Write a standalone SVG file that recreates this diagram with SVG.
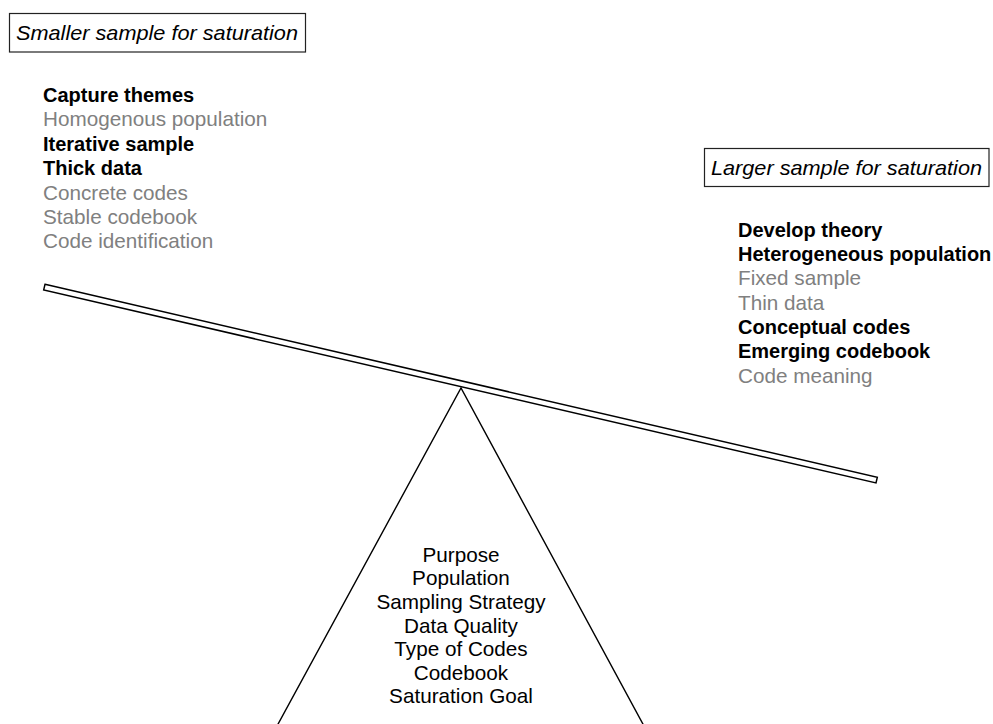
<svg xmlns="http://www.w3.org/2000/svg" width="993" height="724" viewBox="0 0 993 724">
<style>
text{font-family:"Liberation Sans",Arial,Helvetica,sans-serif;}
.lbl{font-size:21px;font-style:italic;fill:#000;}
.box{fill:#fff;stroke:#222;stroke-width:1.2;}
.b{font-size:20px;font-weight:bold;fill:#000;}
.g{font-size:20.7px;fill:#808080;}
.c{font-size:20.7px;fill:#000;text-anchor:middle;}
.shape{fill:#fff;stroke:#000;stroke-width:1.5;stroke-linejoin:miter;}
.line{fill:none;stroke:#000;stroke-width:1.4;}
</style>
<rect width="993" height="724" fill="#fff"/>
<g id="fulcrum">
<polyline class="line" points="277,726 461,388 644,726"/>
</g>
<g id="beam">
<polygon class="shape" points="45,284.3 877.3,477.3 876,482.9 43.7,289.9"/>
</g>
<g id="smaller-label">
<rect class="box" x="9.5" y="13.5" width="296" height="38.5"/>
<text class="lbl" x="16" y="40" textLength="282" lengthAdjust="spacingAndGlyphs">Smaller sample for saturation</text>
</g>
<g id="larger-label">
<rect class="box" x="704.5" y="148.5" width="284.5" height="38"/>
<text class="lbl" x="711" y="174.5" textLength="271" lengthAdjust="spacingAndGlyphs">Larger sample for saturation</text>
</g>
<g id="left-list">
<text class="b" x="43" y="101.7">Capture themes</text>
<text class="g" x="43" y="126">Homogenous population</text>
<text class="b" x="43" y="150.5">Iterative sample</text>
<text class="b" x="43" y="175">Thick data</text>
<text class="g" x="43" y="199.5">Concrete codes</text>
<text class="g" x="43" y="224">Stable codebook</text>
<text class="g" x="43" y="248.4">Code identification</text>
</g>
<g id="right-list">
<text class="b" x="738" y="236.5">Develop theory</text>
<text class="b" x="738" y="261">Heterogeneous population</text>
<text class="g" x="738" y="285.3">Fixed sample</text>
<text class="g" x="738" y="309.7">Thin data</text>
<text class="b" x="738" y="334">Conceptual codes</text>
<text class="b" x="738" y="358.4">Emerging codebook</text>
<text class="g" x="738" y="382.8">Code meaning</text>
</g>
<g id="factors">
<text class="c" x="461" y="561.7">Purpose</text>
<text class="c" x="461" y="585.2">Population</text>
<text class="c" x="461" y="608.7">Sampling Strategy</text>
<text class="c" x="461" y="632.5">Data Quality</text>
<text class="c" x="461" y="656.2">Type of Codes</text>
<text class="c" x="461" y="679.8">Codebook</text>
<text class="c" x="461" y="703.3">Saturation Goal</text>
</g>
</svg>
